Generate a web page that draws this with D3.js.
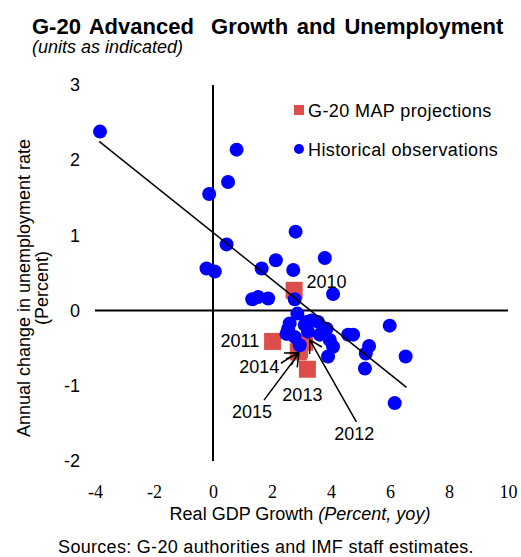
<!DOCTYPE html>
<html>
<head>
<meta charset="utf-8">
<script src="https://cdn.jsdelivr.net/npm/d3@7"></script>
<style>
  body { margin: 0; background: #fff; }
  svg { display: block; font-family: 'Liberation Sans', Arial, sans-serif; }
</style>
</head>
<body>
<svg id="chart"></svg>
<script>
// historical observations (GDP growth, change in unemployment)
const histX = [-3.83, 0.80, 0.51, -0.13, 0.46, 2.80, -0.22, 0.06, 1.65, 2.13, 2.72, 3.79, 4.07,
    1.33, 1.53, 1.87, 2.77, 2.86, 2.55, 2.49, 2.77, 2.94, 3.11, 3.22, 3.34, 3.56, 3.85,
    3.62, 3.96, 4.07, 3.90, 4.58, 4.75, 5.29, 5.18, 5.15, 5.99, 6.53, 6.16, 2.60, 3.17];
const histY = [2.38, 2.14, 1.71, 1.55, 0.88, 1.05, 0.56, 0.52, 0.56, 0.67, 0.54, 0.70, 0.22,
    0.15, 0.18, 0.16, 0.15, -0.04, -0.24, -0.31, -0.35, -0.46, -0.19, -0.28, -0.13, -0.15, -0.24,
    -0.32, -0.39, -0.48, -0.61, -0.32, -0.32, -0.47, -0.57, -0.77, -0.20, -0.61, -1.23, -0.17, -0.15];

// G-20 MAP projections
const projYears = ['2010', '2011', '2012', '2013', '2014', '2015'];
const projX = [2.75, 2.02, 3.11, 3.20, 2.89, 2.93];
const projY = [0.27, -0.41, -0.42, -0.78, -0.55, -0.52];

// fitted line end points
const trendX = [-3.86, 6.56];
const trendY = [2.25, -1.02];

const xTicks = [-4, -2, 0, 2, 4, 6, 8, 10];
const yTicks = [-2, -1, 0, 1, 2, 3];

// year labels (label anchor in data units) and arrows
const labels = [
    { text: '2010', x: 3.17, y: 0.30, anchor: 'start' },
    { text: '2011', x: 1.57, y: -0.48, anchor: 'end' },
    { text: '2014', x: 2.25, y: -0.83, anchor: 'end' },
    { text: '2015', x: 1.32, y: -1.43, anchor: 'middle' },
    { text: '2013', x: 3.03, y: -1.20, anchor: 'middle' },
    { text: '2012', x: 4.79, y: -1.72, anchor: 'middle' }
];
const arrows = [
    { from: [4.86, -1.48], to: [3.28, -0.39] },
    { from: [2.30, -0.70], to: [2.88, -0.56] },
    { from: [1.73, -1.19], to: [2.91, -0.57] }
];

const width = 521, height = 557;
const svg = d3.select('#chart').attr('width', width).attr('height', height);

const x = d3.scaleLinear().domain([-4, 10]).range([95, 508]);
const y = d3.scaleLinear().domain([-2, 3]).range([461, 85]);

// titles
svg.append('text')
    .attr('x', 32).attr('y', 34)
    .attr('font-size', 22).attr('font-weight', 'bold')
    .attr('xml:space', 'preserve')
    .style('word-spacing', '2.5px')
    .text('G-20 Advanced  Growth and Unemployment');
svg.append('text')
    .attr('x', 32).attr('y', 53)
    .attr('font-size', 18).attr('font-style', 'italic')
    .text('(units as indicated)');

// zero lines
svg.append('line')
    .attr('x1', x(-4)).attr('x2', x(10))
    .attr('y1', y(0)).attr('y2', y(0))
    .attr('stroke', '#000').attr('stroke-width', 2);
svg.append('line')
    .attr('x1', x(0)).attr('x2', x(0))
    .attr('y1', y(3)).attr('y2', y(-2))
    .attr('stroke', '#000').attr('stroke-width', 2);

// axes (labels only)
const xAxis = svg.append('g')
    .attr('transform', 'translate(0,480)')
    .call(d3.axisBottom(x).tickValues(xTicks).tickSize(0).tickPadding(5).tickFormat(d => String(d)));
xAxis.select('.domain').remove();
xAxis.selectAll('text')
    .attr('font-family', "'Liberation Serif', 'Times New Roman', serif")
    .attr('font-size', 18).attr('fill', '#000');

const yAxis = svg.append('g')
    .attr('transform', 'translate(80,0)')
    .call(d3.axisLeft(y).tickValues(yTicks).tickSize(0).tickPadding(0).tickFormat(d => String(d)));
yAxis.select('.domain').remove();
yAxis.selectAll('text')
    .attr('font-family', "'Liberation Sans', Arial, sans-serif")
    .attr('font-size', 18).attr('fill', '#000');

// axis titles
const xTitle = svg.append('text')
    .attr('x', 300).attr('y', 520)
    .attr('text-anchor', 'middle').attr('font-size', 18);
xTitle.append('tspan').text('Real GDP Growth ');
xTitle.append('tspan').attr('font-style', 'italic').text('(Percent, yoy)');

const yTitle = svg.append('text')
    .attr('transform', 'translate(30,288) rotate(-90)')
    .attr('text-anchor', 'middle').attr('font-size', 18);
yTitle.append('tspan').attr('x', 0).attr('y', 0).text('Annual change in unemployment rate');
yTitle.append('tspan').attr('x', 0).attr('y', 18).text('(Percent)');

svg.append('text')
    .attr('x', 266).attr('y', 553)
    .attr('text-anchor', 'middle').attr('font-size', 18)
    .style('letter-spacing', '0.3px')
    .text('Sources: G-20 authorities and IMF staff estimates.');

// projections (drawn underneath the dots)
const sq = 17;
svg.append('g').selectAll('rect')
    .data(projYears)
    .join('rect')
    .attr('x', (d, i) => x(projX[i]) - sq / 2)
    .attr('y', (d, i) => y(projY[i]) - sq / 2)
    .attr('width', sq).attr('height', sq)
    .attr('fill', '#DD4E4A');

// historical dots
svg.append('g').selectAll('circle')
    .data(histX)
    .join('circle')
    .attr('cx', d => x(d))
    .attr('cy', (d, i) => y(histY[i]))
    .attr('r', 7)
    .attr('fill', '#0000FF');

// trend line
svg.append('path')
    .datum(d3.zip(trendX, trendY))
    .attr('fill', 'none')
    .attr('stroke', '#000')
    .attr('stroke-width', 1.5)
    .attr('d', d3.line().x(d => x(d[0])).y(d => y(d[1])));

// year labels
svg.append('g').selectAll('text')
    .data(labels)
    .join('text')
    .attr('x', d => x(d.x)).attr('y', d => y(d.y))
    .attr('text-anchor', d => d.anchor)
    .attr('font-size', 18)
    .text(d => d.text);

// arrows with open heads
const barb = 14, spread = Math.PI / 6;
const arrowPath = d => {
    const x0 = x(d.from[0]), y0 = y(d.from[1]);
    const x1 = x(d.to[0]), y1 = y(d.to[1]);
    const a = Math.atan2(y0 - y1, x0 - x1);
    const p = d3.path();
    p.moveTo(x0, y0); p.lineTo(x1, y1);
    p.moveTo(x1 + barb * Math.cos(a + spread), y1 + barb * Math.sin(a + spread));
    p.lineTo(x1, y1);
    p.lineTo(x1 + barb * Math.cos(a - spread), y1 + barb * Math.sin(a - spread));
    return p.toString();
};
svg.append('g').selectAll('path')
    .data(arrows)
    .join('path')
    .attr('d', arrowPath)
    .attr('fill', 'none')
    .attr('stroke', '#000')
    .attr('stroke-width', 1.5);

// legend
const legend = svg.append('g');
legend.append('rect')
    .attr('x', 294).attr('y', 105).attr('width', 10).attr('height', 10)
    .attr('fill', '#DD4E4A');
legend.append('text')
    .attr('x', 308).attr('y', 117).attr('font-size', 18)
    .style('letter-spacing', '0.4px')
    .text('G-20 MAP projections');
legend.append('circle')
    .attr('cx', 299).attr('cy', 149).attr('r', 5)
    .attr('fill', '#0000FF');
legend.append('text')
    .attr('x', 308).attr('y', 156).attr('font-size', 18)
    .style('letter-spacing', '0.4px')
    .text('Historical observations');
</script>
</body>
</html>
